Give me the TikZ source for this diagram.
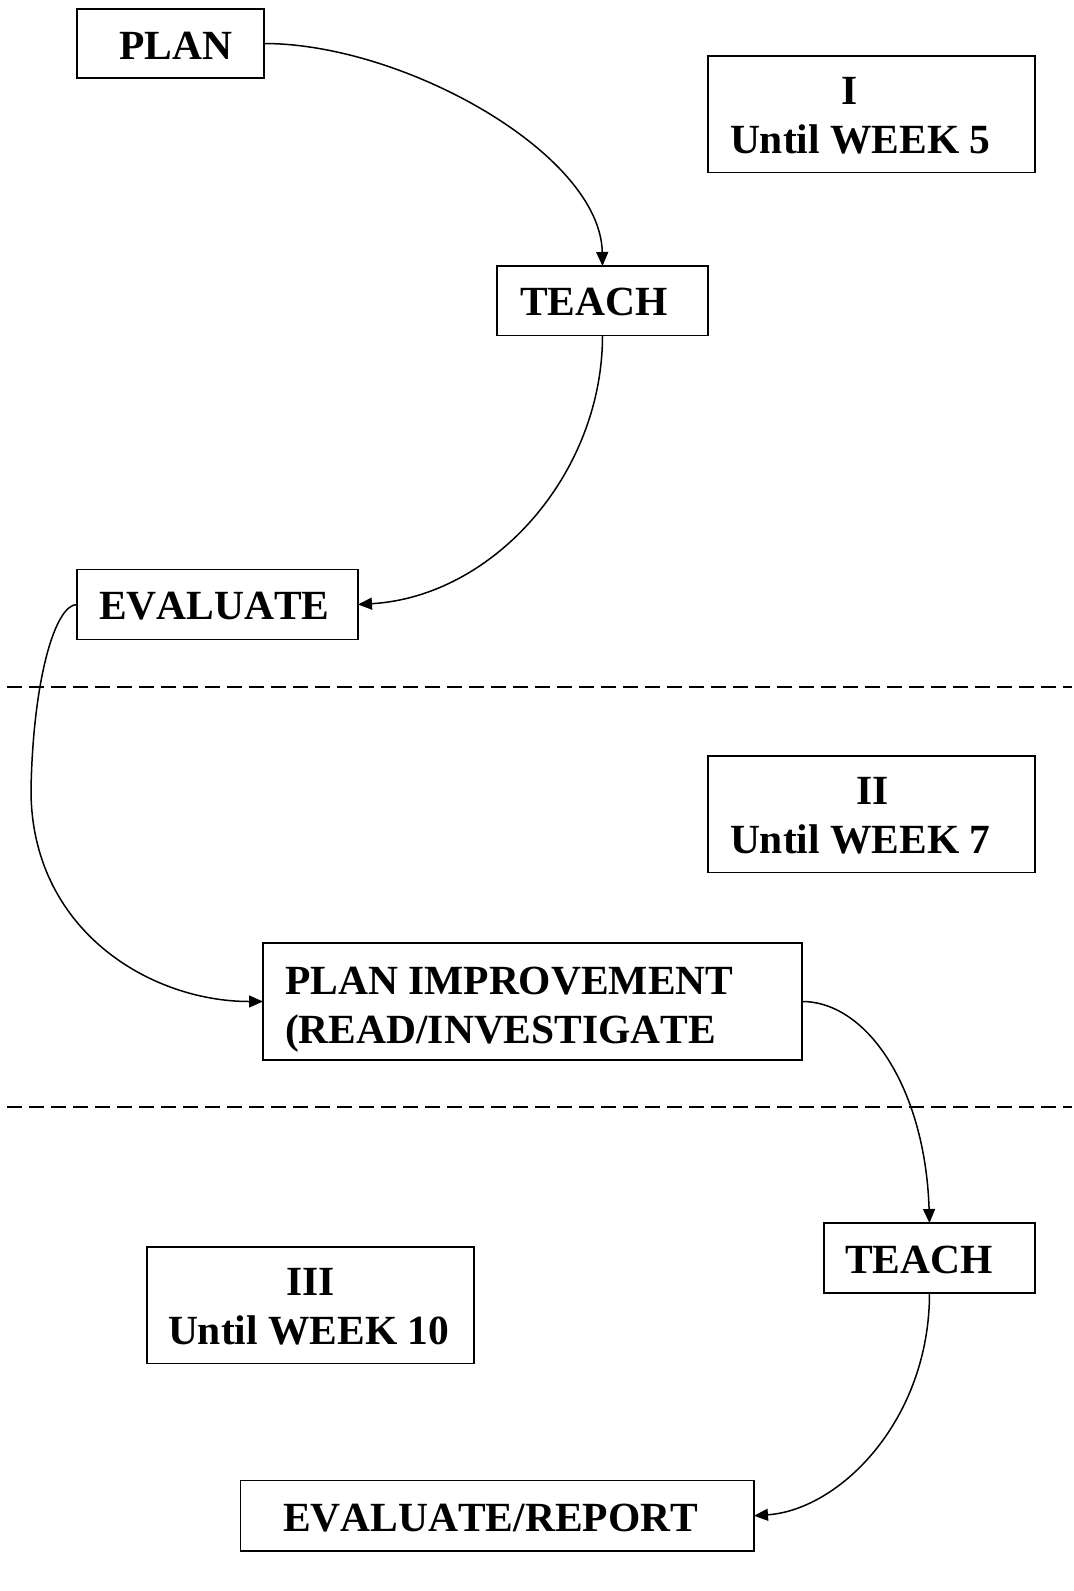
\documentclass[tikz,border=0pt]{standalone}
\usepackage{fontspec}
\setmainfont{Liberation Serif}[Kerning=Off]
\usetikzlibrary{arrows.meta}
\begin{document}
\begin{tikzpicture}[x=1pt,y=-1pt,
  box/.style={draw, line width=1.6pt, inner sep=0pt, outer sep=0pt},
  lbl/.style={anchor=base west, inner sep=0pt, outer sep=0pt, font=\fontsize{41.5}{49}\selectfont\bfseries},
  conn/.style={line width=1.5pt, -{Triangle[length=14pt,width=12pt]}},
  sep/.style={line width=1.4pt, dash pattern=on 15pt off 7pt}]
\useasboundingbox (0,0) rectangle (1074,1591);
\fill[white] (0,0) rectangle (1074,1591);

% boxes
\node[box, minimum width=187pt, minimum height=69pt] (plan) at (170.5,43.5) {};
\node[box, minimum width=327pt, minimum height=116.5pt] (wk1) at (871.5,114.25) {};
\node[box, minimum width=211pt, minimum height=69.5pt] (teach1) at (602.5,300.75) {};
\node[box, minimum width=281pt, minimum height=70pt] (eval) at (217.5,604.5) {};
\node[box, minimum width=327pt, minimum height=116.5pt] (wk2) at (871.5,814.25) {};
\node[box, minimum width=539pt, minimum height=117pt] (pi) at (532.5,1001.5) {};
\node[box, minimum width=211pt, minimum height=70pt] (teach2) at (929.5,1258) {};
\node[box, minimum width=327pt, minimum height=116.5pt] (wk3) at (310.5,1305.25) {};
\node[box, minimum width=513.5pt, minimum height=70.5pt] (evrep) at (497.25,1515.75) {};

% texts
\node[lbl] (tplan) at (119,59) {PLAN};
\node[lbl] (twk1a) at (841,104) {I};
\node[lbl] (twk1b) at (730,153) {Until WEEK 5};
\node[lbl] (tteach1) at (520,315) {TEACH};
\node[lbl] (teval) at (99,619) {EVALUATE};
\node[lbl] (twk2a) at (856,804) {II};
\node[lbl] (twk2b) at (730,853) {Until WEEK 7};
\node[lbl] (tpia) at (285,994) {PLAN IMPROVEMENT};
\node[lbl] (tpib) at (285,1043) {(READ/INVESTIGATE};
\node[lbl] (tteach2) at (845,1273) {TEACH};
\node[lbl] (twk3a) at (286,1295) {III};
\node[lbl] (twk3b) at (168,1344) {Until WEEK 10};
\node[lbl] (tevrep) at (283,1531) {EVALUATE/REPORT};

% dashed separators
\coordinate (d1a) at (7,687);
\coordinate (d1b) at (1072,687);
\coordinate (d2a) at (7,1107);
\coordinate (d2b) at (1072,1107);
\draw[sep] (d1a) -- (d1b);
\draw[sep] (d2a) -- (d2b);

% connectors
\coordinate (c1) at (31,790);
\draw[conn] (plan.east) .. controls +(140,0) and +(-2,-112) .. (teach1.north);
\draw[conn] (teach1.south) .. controls +(0,138) and +(136,-8) .. (eval.east);
\draw[conn] (eval.west) .. controls +(-22,0) and +(2,-110) .. (c1) .. controls +(0,140) and +(-113,0) .. (pi.west);
\draw[conn] (pi.east) .. controls +(66,0) and +(-4,-133) .. (teach2.north);
\draw[conn] (teach2.south) .. controls +(0,127) and +(86,-6) .. (evrep.east);
\end{tikzpicture}
\end{document}
